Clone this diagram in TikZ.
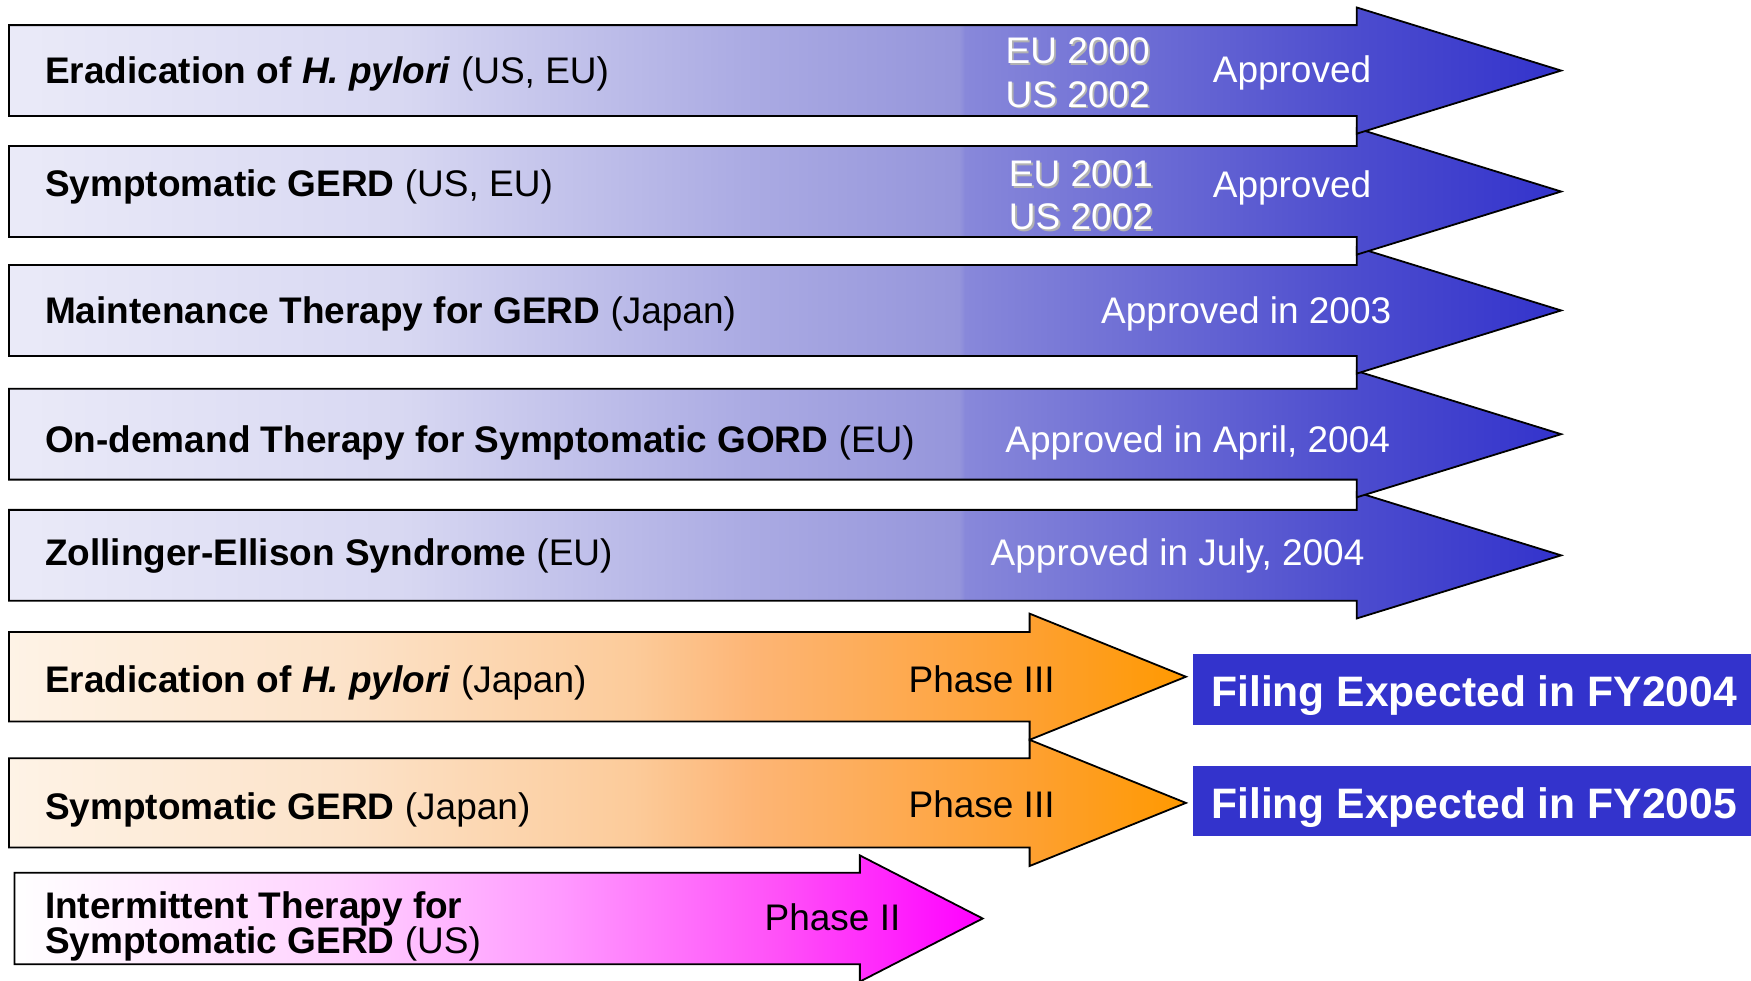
\documentclass[tikz,border=0pt]{standalone}
\usepackage{fontspec}
\setmainfont{Liberation Sans}
\definecolor{b0}{HTML}{EAEAF8}
\definecolor{b1}{HTML}{D8D8F2}
\definecolor{b2}{HTML}{ABABE3}
\definecolor{b3}{HTML}{9595DB}
\definecolor{b4}{HTML}{8888DA}
\definecolor{b5}{HTML}{4C4CCE}
\definecolor{b7}{HTML}{3333CC}
\definecolor{o0}{HTML}{FEF3E6}
\definecolor{o1}{HTML}{FCE2C8}
\definecolor{o2}{HTML}{FCCB9A}
\definecolor{o3}{HTML}{FDB575}
\definecolor{o4}{HTML}{FEA030}
\definecolor{o5}{HTML}{FF9900}
\definecolor{m0}{HTML}{FFFFFF}
\definecolor{m1}{HTML}{FFD3FF}
\definecolor{m2}{HTML}{FF9AFF}
\definecolor{m3}{HTML}{FF50F8}
\definecolor{m4}{HTML}{FF00FF}
\definecolor{filingblue}{HTML}{3333CC}
\pgfdeclarehorizontalshading{blueg}{100bp}{color(0bp)=(b0); color(25bp)=(b0); color(37.6bp)=(b1); color(48.7bp)=(b2); color(55.6bp)=(b3); color(55.8bp)=(b4); color(68.4bp)=(b5); color(75bp)=(b7); color(100bp)=(b7)}
\pgfdeclarehorizontalshading{orangeg}{100bp}{color(0bp)=(o0); color(25bp)=(o0); color(39.5bp)=(o1); color(51.5bp)=(o2); color(56.6bp)=(o3); color(68.5bp)=(o4); color(75bp)=(o5); color(100bp)=(o5)}
\pgfdeclarehorizontalshading{magentag}{100bp}{color(0bp)=(m0); color(25bp)=(m0); color(41.5bp)=(m1); color(53bp)=(m2); color(64.5bp)=(m3); color(75bp)=(m4); color(100bp)=(m4)}
\newcommand{\hArrow}[7]{%
  \shadedraw[shading=#1, arrowshape] (#2,#5-#6) -- (#3,#5-#6) -- (#3,#5-#7) -- (#4,#5) -- (#3,#5+#7) -- (#3,#5+#6) -- (#2,#5+#6) -- cycle;}
\tikzset{
  arrowshape/.style={draw=black, line width=0.9pt, line join=miter},
  lbl/.style={anchor=west, inner sep=0pt, font=\fontsize{18.5}{22}\selectfont, text=black},
  blk/.style={inner sep=0pt, font=\fontsize{18.5}{22}\selectfont, text=black},
  wtxt/.style={inner sep=0pt, font=\fontsize{18.5}{21.8}\selectfont, text=white, align=center},
  shd/.style={inner sep=0pt, font=\fontsize{18.5}{21.8}\selectfont, text=black!30, align=center},
  filing/.style={anchor=west, fill=filingblue, text=white, inner sep=0pt,
    font=\fontsize{21.3}{25}\selectfont\bfseries, minimum height=35.2pt, minimum width=281pt,
    text height=20pt, text depth=3pt}
}
\begin{document}
\begin{tikzpicture}[x=0.5583pt, y=-0.5583pt]
\useasboundingbox (0,0) rectangle (1568,878);
\clip (0,0) rectangle (1568,878);
% arrows, bottom first so upper arrows overlap
\hArrow{magentag}{13}{770}{880}{822.5}{41}{56.5}
\hArrow{orangeg}{8}{922}{1062}{719}{40}{56.5}
\hArrow{orangeg}{8}{922}{1062}{606}{40}{56.5}
\hArrow{blueg}{8}{1215}{1398}{497.3}{40.7}{56.5}
\hArrow{blueg}{8}{1215}{1398}{388.8}{40.7}{56.5}
\hArrow{blueg}{8}{1215}{1398}{278}{40.7}{56.5}
\hArrow{blueg}{8}{1215}{1398}{171.5}{40.7}{56.5}
\hArrow{blueg}{8}{1215}{1398}{63.2}{40.7}{56.5}
% labels
\node[lbl] (l1) at (40,66.5) {\bfseries Eradication of \itshape H. pylori\/\normalfont\mdseries{} (US, EU)};
\node[lbl] (l2) at (40,167.5) {\bfseries Symptomatic GERD\mdseries{} (US, EU)};
\node[lbl] (l3) at (40,281.5) {\bfseries Maintenance Therapy for GERD\mdseries{} (Japan)};
\node[lbl] (l4) at (40,396.5) {\bfseries On-demand Therapy for Symptomatic GORD\mdseries{} (EU)};
\node[lbl] (l5) at (40,497.5) {\bfseries Zollinger-Ellison Syndrome\mdseries{} (EU)};
\node[lbl] (l6) at (40,611.5) {\bfseries Eradication of \itshape H. pylori\/\normalfont\mdseries{} (Japan)};
\node[lbl] (l7) at (40,725.5) {\bfseries Symptomatic GERD\mdseries{} (Japan)};
\node[lbl, align=left, font=\fontsize{18.5}{17.3}\selectfont] (l8) at (40,829.5) {\bfseries Intermittent Therapy for\\\bfseries Symptomatic GERD\mdseries{} (US)};
% status texts
\node[shd] (y1s) at ([xshift=0.9pt,yshift=-0.9pt]965,65) {EU 2000\\US 2002};
\node[wtxt] (y1) at (965,65) {EU 2000\\US 2002};
\node[wtxt] (a1) at (1157,65) {Approved};
\node[shd] (y2s) at ([xshift=0.9pt,yshift=-0.9pt]968,175) {EU 2001\\US 2002};
\node[wtxt] (y2) at (968,175) {EU 2001\\US 2002};
\node[wtxt] (a2) at (1157,168) {Approved};
\node[wtxt] (a3) at (1116,281.5) {Approved in 2003};
\node[wtxt] (a4) at (1072.5,396.5) {Approved in April, 2004};
\node[wtxt] (a5) at (1054.5,497.5) {Approved in July, 2004};
\node[blk] (p6) at (879,608) {Phase III};
\node[blk] (p7) at (879,720) {Phase III};
\node[blk] (p8) at (745.5,821) {Phase II};
% filing boxes
\node[filing] (f1) at (1068,617.5) {Filing Expected in FY2004};
\node[filing] (f2) at (1068,717.5) {Filing Expected in FY2005};
\end{tikzpicture}
\end{document}
